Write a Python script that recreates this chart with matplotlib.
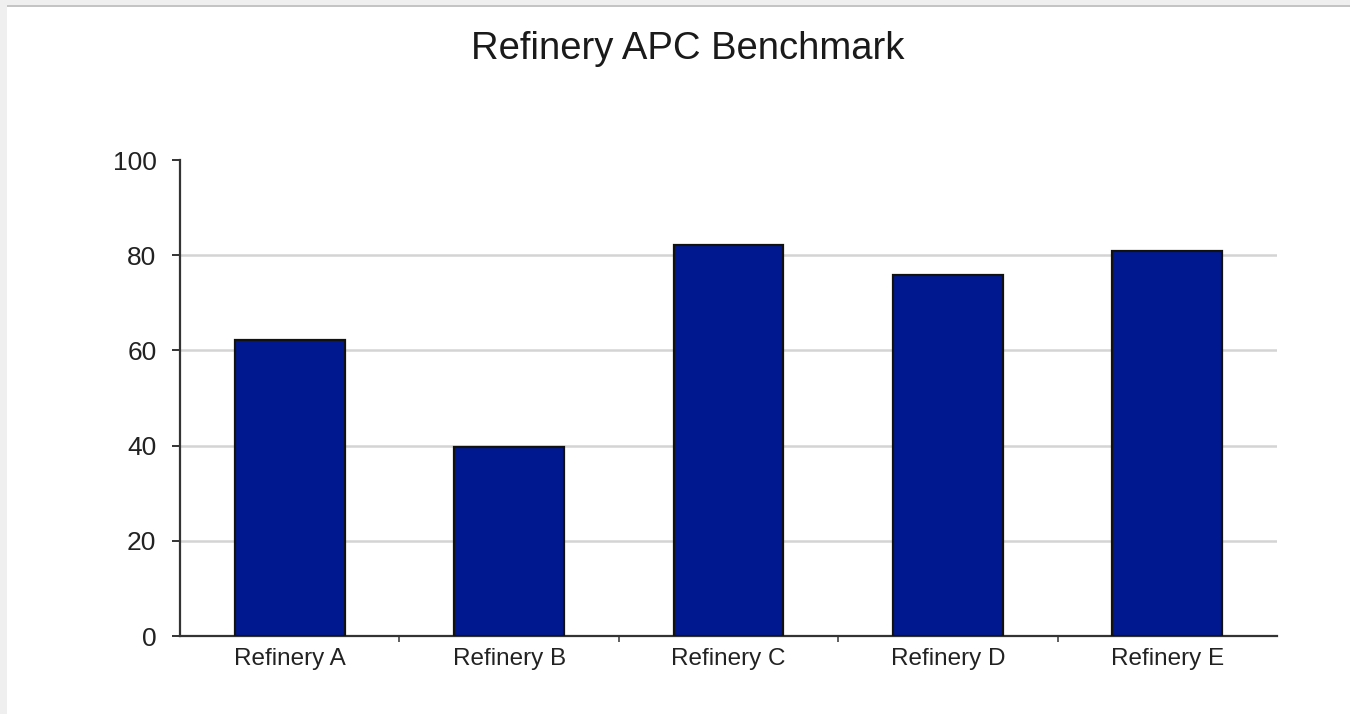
import matplotlib
matplotlib.use("Agg")
import matplotlib.pyplot as plt
from matplotlib.patches import Rectangle
from matplotlib.ticker import FixedLocator

categories = ["Refinery A", "Refinery B", "Refinery C", "Refinery D", "Refinery E"]
values = [62.2, 39.8, 82.2, 75.8, 80.9]
yticks = [0, 20, 40, 60, 80, 100]

plt.rcParams['font.family'] = ['Liberation Sans', 'DejaVu Sans']

W, H = 1350, 714
fig = plt.figure(figsize=(W / 100, H / 100), dpi=100)
fig.patch.set_facecolor("white")

# light gray frame at top/left
fig.patches.append(Rectangle((0, 1 - 5 / H), 1, 5 / H, transform=fig.transFigure,
                             facecolor="#efefef", edgecolor="none", zorder=0))
fig.patches.append(Rectangle((0, 1 - 7 / H), 1, 2 / H, transform=fig.transFigure,
                             facecolor="#c4c4c4", edgecolor="none", zorder=0))
fig.patches.append(Rectangle((0, 0), 7 / W, 1, transform=fig.transFigure,
                             facecolor="#efefef", edgecolor="none", zorder=0))

ax = fig.add_axes([180 / W, (H - 636) / H, (1277 - 180) / W, (636 - 160) / H])
ax.set_facecolor("none")

x = list(range(len(categories)))
ax.bar(x, values, width=0.5, color="#00188f", edgecolor="#111111", linewidth=1.6, zorder=3)

ax.set_xlim(-0.5, len(categories) - 0.5)
ax.set_ylim(0, 100)
ax.set_yticks(yticks)
ax.set_yticklabels([str(v) for v in yticks], fontsize=19, color="#222222")
ax.set_xticks(x)
ax.set_xticklabels(categories, fontsize=17.5, color="#222222")
ax.tick_params(axis="x", which="major", length=0, pad=9)
ax.xaxis.set_minor_locator(FixedLocator([i + 0.5 for i in range(len(categories) - 1)]))
ax.tick_params(axis="x", which="minor", length=4, width=1.2, color="#444444", direction="out")
ax.tick_params(axis="y", length=6, width=1.4, color="#333333", pad=11)

for v in yticks[1:-1]:
    ax.axhline(v, color="#d4d4d4", linewidth=1.8, zorder=1)

for s in ["top", "right"]:
    ax.spines[s].set_visible(False)
for s in ["left", "bottom"]:
    ax.spines[s].set_color("#333333")
    ax.spines[s].set_linewidth(1.6)

fig.text(688 / W, 1 - 49 / H, "Refinery APC Benchmark", ha="center", va="center",
         fontsize=27.5, color="#1a1a1a")

fig.savefig("out.png", dpi=100)
